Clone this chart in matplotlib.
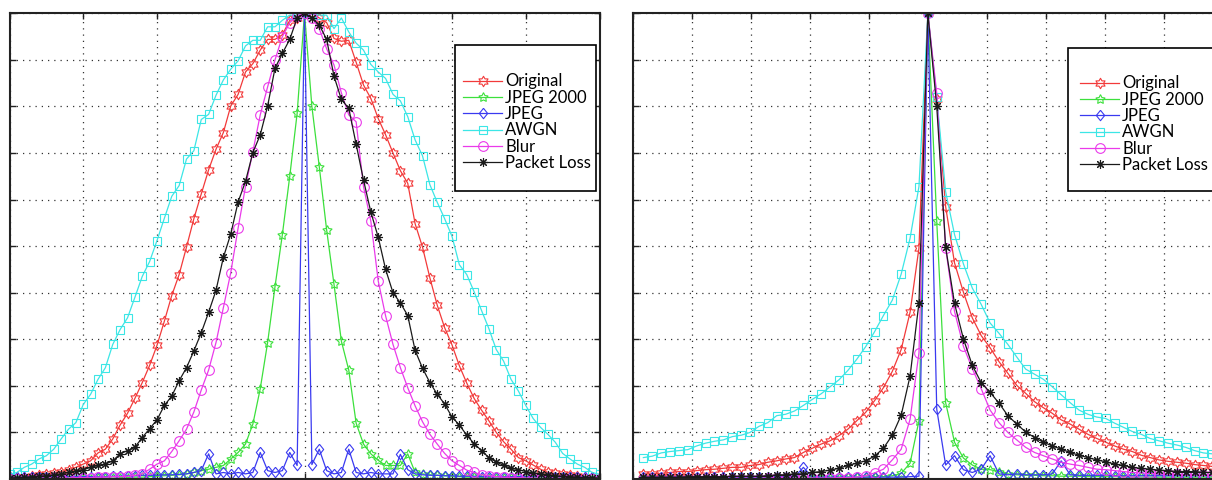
import matplotlib
matplotlib.use("Agg")
import matplotlib.pyplot as plt
from matplotlib.path import Path
from matplotlib.patches import Rectangle
import numpy as np

# ---- data: normalised histograms, left panel (offsets -40..40) ----
left_x = list(range(-40, 41))

left_original = [
    0.003, 0.004, 0.005, 0.006, 0.008, 0.010, 0.013, 0.016, 0.020, 0.025,
    0.032, 0.039, 0.056, 0.064, 0.086, 0.116, 0.141, 0.173, 0.207, 0.244,
    0.287, 0.339, 0.394, 0.439, 0.498, 0.559, 0.612, 0.664, 0.708, 0.744,
    0.801, 0.826, 0.874, 0.892, 0.921, 0.944, 0.944, 0.954, 0.985, 0.990,
    1.000,
    1.000, 0.990, 0.980, 0.946, 0.940, 0.942, 0.895, 0.846, 0.817, 0.774,
    0.739, 0.700, 0.662, 0.635, 0.548, 0.498, 0.432, 0.373, 0.325, 0.288,
    0.243, 0.206, 0.173, 0.148, 0.125, 0.100, 0.080, 0.064, 0.046, 0.039,
    0.030, 0.021, 0.014, 0.012, 0.010, 0.008, 0.007, 0.005, 0.004, 0.003,
]
left_jpeg2000 = [
    0.000, 0.000, 0.000, 0.000, 0.000, 0.000, 0.000, 0.001, 0.001, 0.001,
    0.001, 0.001, 0.002, 0.002, 0.002, 0.003, 0.003, 0.004, 0.004, 0.005,
    0.006, 0.007, 0.008, 0.009, 0.011, 0.014, 0.018, 0.021, 0.025, 0.029,
    0.043, 0.057, 0.075, 0.118, 0.194, 0.293, 0.413, 0.525, 0.650, 0.785,
    1.000,
    0.800, 0.671, 0.535, 0.418, 0.296, 0.234, 0.120, 0.075, 0.054, 0.040,
    0.029, 0.029, 0.029, 0.054, 0.014, 0.011, 0.009, 0.008, 0.007, 0.006,
    0.005, 0.004, 0.004, 0.003, 0.003, 0.002, 0.002, 0.002, 0.001, 0.001,
    0.001, 0.001, 0.000, 0.000, 0.000, 0.000, 0.000, 0.000, 0.000, 0.000,
]
left_jpeg = [
    0.005, 0.005, 0.005, 0.005, 0.005, 0.005, 0.005, 0.005, 0.005, 0.005,
    0.005, 0.005, 0.005, 0.005, 0.006, 0.006, 0.007, 0.007, 0.008, 0.008,
    0.008, 0.009, 0.009, 0.010, 0.011, 0.014, 0.018, 0.054, 0.011, 0.014,
    0.011, 0.014, 0.011, 0.014, 0.057, 0.018, 0.014, 0.018, 0.057, 0.029,
    1.000,
    0.031, 0.064, 0.018, 0.011, 0.014, 0.064, 0.014, 0.011, 0.014, 0.011,
    0.011, 0.011, 0.053, 0.020, 0.011, 0.009, 0.008, 0.008, 0.007, 0.007,
    0.006, 0.006, 0.006, 0.005, 0.005, 0.005, 0.005, 0.005, 0.005, 0.005,
    0.005, 0.005, 0.005, 0.005, 0.005, 0.005, 0.005, 0.005, 0.005, 0.005,
]
left_awgn = [
    0.010, 0.014, 0.025, 0.032, 0.043, 0.050, 0.064, 0.086, 0.107, 0.121,
    0.160, 0.182, 0.214, 0.239, 0.289, 0.321, 0.346, 0.390, 0.435, 0.467,
    0.512, 0.560, 0.607, 0.630, 0.687, 0.705, 0.772, 0.783, 0.824, 0.857,
    0.880, 0.898, 0.930, 0.942, 0.942, 0.971, 0.971, 0.985, 0.996, 0.996,
    1.000,
    0.998, 0.996, 0.996, 0.967, 0.990, 0.960, 0.936, 0.921, 0.890, 0.874,
    0.860, 0.826, 0.812, 0.778, 0.728, 0.694, 0.632, 0.594, 0.559, 0.521,
    0.460, 0.439, 0.402, 0.362, 0.323, 0.278, 0.253, 0.214, 0.189, 0.158,
    0.130, 0.111, 0.096, 0.079, 0.055, 0.043, 0.032, 0.025, 0.014, 0.010,
]
left_blur = [
    0.000, 0.000, 0.000, 0.001, 0.001, 0.001, 0.002, 0.002, 0.002, 0.003,
    0.003, 0.003, 0.004, 0.004, 0.005, 0.005, 0.006, 0.008, 0.011, 0.021,
    0.032, 0.039, 0.059, 0.082, 0.107, 0.144, 0.191, 0.234, 0.293, 0.368,
    0.443, 0.539, 0.628, 0.703, 0.782, 0.842, 0.900, 0.950, 0.980, 0.995,
    1.000,
    0.990, 0.967, 0.924, 0.889, 0.829, 0.782, 0.767, 0.628, 0.553, 0.425,
    0.350, 0.289, 0.239, 0.196, 0.157, 0.123, 0.096, 0.075, 0.055, 0.039,
    0.029, 0.019, 0.014, 0.009, 0.007, 0.005, 0.004, 0.003, 0.003, 0.002,
    0.002, 0.001, 0.001, 0.001, 0.000, 0.000, 0.000, 0.000, 0.000, 0.000,
]
left_packet = [
    0.002, 0.003, 0.004, 0.005, 0.006, 0.007, 0.009, 0.011, 0.014, 0.017,
    0.020, 0.025, 0.029, 0.032, 0.039, 0.054, 0.061, 0.068, 0.089, 0.108,
    0.127, 0.158, 0.178, 0.211, 0.239, 0.275, 0.314, 0.358, 0.405, 0.476,
    0.526, 0.595, 0.639, 0.701, 0.739, 0.801, 0.882, 0.914, 0.944, 0.990,
    1.000,
    0.990, 0.975, 0.944, 0.865, 0.815, 0.796, 0.719, 0.642, 0.573, 0.519,
    0.450, 0.400, 0.378, 0.351, 0.276, 0.238, 0.207, 0.182, 0.161, 0.133,
    0.116, 0.094, 0.076, 0.061, 0.046, 0.037, 0.029, 0.023, 0.020, 0.016,
    0.013, 0.011, 0.009, 0.007, 0.006, 0.005, 0.004, 0.003, 0.003, 0.002,
]

# ---- data: right panel (offsets -32..32) ----
right_x = list(range(-32, 33))

right_original = [
    0.011, 0.011, 0.012, 0.014, 0.016, 0.016, 0.018, 0.020, 0.021, 0.023,
    0.025, 0.025, 0.029, 0.031, 0.036, 0.039, 0.043, 0.046, 0.057, 0.066,
    0.075, 0.082, 0.093, 0.107, 0.125, 0.143, 0.168, 0.196, 0.231, 0.278,
    0.358, 0.496,
    1.000,
    0.815, 0.585,
    0.464, 0.401, 0.346, 0.308, 0.282, 0.252, 0.227, 0.201, 0.184, 0.166,
    0.153, 0.141, 0.127, 0.118, 0.107, 0.096, 0.087, 0.079, 0.071, 0.064,
    0.059, 0.051, 0.046, 0.041, 0.038, 0.036, 0.034, 0.031, 0.029, 0.027,
]
right_jpeg2000 = [
    0.002, 0.002, 0.002, 0.002, 0.002, 0.002, 0.002, 0.002, 0.002, 0.002,
    0.002, 0.002, 0.002, 0.002, 0.002, 0.003, 0.003, 0.003, 0.003, 0.003,
    0.003, 0.003, 0.003, 0.004, 0.004, 0.004, 0.005, 0.005, 0.007, 0.012,
    0.034, 0.125,
    1.000,
    0.553, 0.164,
    0.079, 0.045, 0.030, 0.021, 0.020, 0.016, 0.011, 0.009, 0.008, 0.008,
    0.007, 0.007, 0.006, 0.006, 0.006, 0.005, 0.005, 0.005, 0.005, 0.005,
    0.004, 0.004, 0.004, 0.004, 0.004, 0.004, 0.004, 0.004, 0.004, 0.004,
]
right_jpeg = [
    0.004, 0.004, 0.004, 0.004, 0.004, 0.004, 0.004, 0.004, 0.004, 0.004,
    0.004, 0.004, 0.004, 0.004, 0.004, 0.004, 0.004, 0.004, 0.025, 0.004,
    0.004, 0.004, 0.004, 0.004, 0.004, 0.004, 0.004, 0.004, 0.004, 0.004,
    0.005, 0.006,
    1.000,
    0.150, 0.030,
    0.050, 0.020, 0.014, 0.021, 0.050, 0.011, 0.009, 0.011, 0.009, 0.009,
    0.009, 0.011, 0.039, 0.009, 0.008, 0.008, 0.008, 0.008, 0.007, 0.007,
    0.007, 0.007, 0.007, 0.007, 0.007, 0.007, 0.007, 0.007, 0.007, 0.007,
]
right_awgn = [
    0.046, 0.049, 0.056, 0.059, 0.061, 0.063, 0.071, 0.077, 0.081, 0.084,
    0.091, 0.094, 0.100, 0.113, 0.121, 0.136, 0.139, 0.146, 0.158, 0.171,
    0.183, 0.198, 0.213, 0.233, 0.257, 0.284, 0.316, 0.351, 0.384, 0.440,
    0.517, 0.628,
    1.000,
    0.820, 0.617,
    0.525, 0.462, 0.410, 0.375, 0.335, 0.313, 0.289, 0.262, 0.236, 0.225,
    0.214, 0.198, 0.181, 0.164, 0.148, 0.139, 0.133, 0.130, 0.120, 0.111,
    0.102, 0.096, 0.087, 0.082, 0.077, 0.073, 0.068, 0.061, 0.056, 0.054,
]
right_blur = [
    0.001, 0.001, 0.001, 0.001, 0.001, 0.001, 0.001, 0.001, 0.001, 0.001,
    0.001, 0.001, 0.001, 0.001, 0.002, 0.002, 0.002, 0.002, 0.002, 0.002,
    0.002, 0.002, 0.003, 0.003, 0.004, 0.007, 0.013, 0.021, 0.041, 0.064,
    0.128, 0.271,
    1.000,
    0.828, 0.496,
    0.360, 0.285, 0.237, 0.194, 0.148, 0.121, 0.100, 0.084, 0.068, 0.057,
    0.050, 0.043, 0.036, 0.032, 0.029, 0.025, 0.021, 0.020, 0.018, 0.016,
    0.014, 0.013, 0.012, 0.011, 0.010, 0.010, 0.009, 0.009, 0.008, 0.008,
]
right_packet = [
    0.004, 0.004, 0.004, 0.004, 0.004, 0.005, 0.005, 0.005, 0.005, 0.005,
    0.006, 0.006, 0.006, 0.006, 0.007, 0.009, 0.009, 0.011, 0.011, 0.014,
    0.016, 0.019, 0.023, 0.029, 0.034, 0.039, 0.049, 0.066, 0.094, 0.137,
    0.221, 0.378,
    1.000,
    0.800, 0.498,
    0.377, 0.301, 0.244, 0.207, 0.186, 0.163, 0.136, 0.118, 0.101, 0.089,
    0.079, 0.071, 0.064, 0.057, 0.051, 0.046, 0.041, 0.037, 0.032, 0.029,
    0.025, 0.023, 0.021, 0.019, 0.018, 0.016, 0.016, 0.016, 0.014, 0.014,
]

labels = ["Original", "JPEG 2000", "JPEG", "AWGN", "Blur", "Packet Loss"]

# MATLAB-like markers
hexagram = Path.unit_regular_star(6, 0.577)
pentagram = (5, 1, 0)
diamond = [(0, 1), (0.8, 0), (0, -1), (-0.8, 0), (0, 1)]
asterisk = (8, 2, 0)

styles = [
    dict(color="#f23a3a", marker=hexagram, ms=7.5, mfc="none"),
    dict(color="#3ce03c", marker=pentagram, ms=7, mfc="none"),
    dict(color="#3a3af0", marker=diamond, ms=7.5, mfc="none"),
    dict(color="#3ce6e6", marker="s", ms=5.5, mfc="none"),
    dict(color="#ea3aea", marker="o", ms=7, mfc="none"),
    dict(color="#1a1a1a", marker=asterisk, ms=6.5, mfc="none"),
]

W, H = 1212, 480
TOP, BOTTOM = 13.3, 479.0
fig = plt.figure(figsize=(W / 100, H / 100), dpi=100)


def make_axes(left_px, right_px):
    return fig.add_axes([left_px / W, 1 - BOTTOM / H,
                         (right_px - left_px) / W, (BOTTOM - TOP) / H])


def style_axes(ax, xlim, xticks):
    ax.set_xlim(*xlim)
    ax.set_ylim(0, 1)
    ax.set_xticks(xticks)
    ax.set_yticks(np.linspace(0, 1, 11))
    ax.set_xticklabels([])
    ax.set_yticklabels([])
    ax.tick_params(direction="in", length=4, width=1, color="#222222",
                   top=True, right=True, bottom=True, left=True)
    ax.grid(True, color="#333333", linestyle=(0, (1, 4)), linewidth=0.9)
    for sp in ax.spines.values():
        sp.set_linewidth(1.5)
        sp.set_color("#222222")


def draw_panel(ax, x, series, box_px, anchor_px):
    """box_px = (left, top, right, bottom) of the legend frame in pixels,
    anchor_px = (x of first handle, y of middle of the rows) in pixels."""
    for y, lab, st in zip(series, labels, styles):
        ax.plot(x, y, label=lab, linewidth=0.9, markeredgewidth=0.8, **st)

    # pixel -> axes fraction helpers
    x0, x1 = ax.get_position().x0 * W, ax.get_position().x1 * W
    fx = lambda px: (px - x0) / (x1 - x0)
    fy = lambda py: (BOTTOM - py) / (BOTTOM - TOP)

    l, t, r, b = box_px
    ax.add_patch(Rectangle((fx(l), fy(b)), fx(r) - fx(l), fy(t) - fy(b),
                           transform=ax.transAxes, facecolor="white",
                           edgecolor="black", linewidth=1.2, zorder=4,
                           clip_on=False))
    ax.legend(loc="center left", bbox_to_anchor=(fx(anchor_px[0]), fy(anchor_px[1])),
              prop={"family": "Lato", "size": 12}, frameon=False,
              borderpad=0, labelspacing=0.018, handlelength=2.35,
              handletextpad=0.18, borderaxespad=0)


# left panel
ax1 = make_axes(9.5, 599.5)
style_axes(ax1, (-40, 40), np.arange(-40, 41, 10))
draw_panel(ax1, left_x,
           [left_original, left_jpeg2000, left_jpeg, left_awgn, left_blur, left_packet],
           (455, 45, 596, 191), (463, 122.2))

# right panel (runs past the right edge of the picture)
ax2 = make_axes(632.7, 1223.0)
style_axes(ax2, (-33.2, 33.2), np.linspace(-33.2, 33.2, 11))
draw_panel(ax2, right_x,
           [right_original, right_jpeg2000, right_jpeg, right_awgn, right_blur, right_packet],
           (1068.3, 47.5, 1214, 191), (1080, 124.2))

fig.savefig("out.png", dpi=100)
